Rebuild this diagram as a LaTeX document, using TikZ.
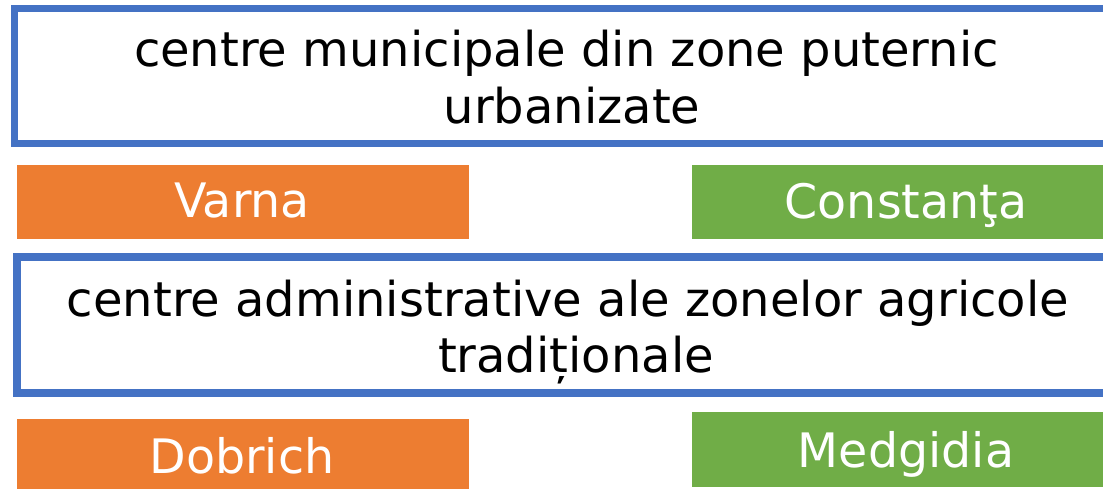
\documentclass[tikz,border=0pt]{standalone}
\usepackage{fontspec}
\setmainfont{DejaVu Sans}
\definecolor{bblue}{HTML}{4472C4}
\definecolor{borange}{HTML}{ED7D31}
\definecolor{bgreen}{HTML}{70AD47}
\tikzset{
  bluebox/.style={draw=bblue, fill=white, rectangle, inner sep=0pt},
  orangebox/.style={fill=borange, draw=borange, rectangle, inner sep=0pt},
  greenbox/.style={fill=bgreen, draw=bgreen, rectangle, inner sep=0pt},
  bigtext/.style={anchor=base, inner sep=0pt, text=black, font=\fontsize{48}{57}\selectfont},
  labtext/.style={anchor=base, inner sep=0pt, text=white, font=\fontsize{47.5}{50}\selectfont},
}
\begin{document}
\begin{tikzpicture}[x=1pt,y=-1pt]
\useasboundingbox (0,0) rectangle (1103,488);
\clip (0,0) rectangle (1103,488);
\fill[white] (0,0) rectangle (1103,488);
% boxes
\node[bluebox, line width=7.5pt, minimum width=1106.5pt, minimum height=135pt] (top) at (567.75,76) {};
\node[orangebox, minimum width=451pt, minimum height=73pt] (varna) at (242.5,201.5) {};
\node[greenbox, minimum width=428pt, minimum height=73pt] (constanta) at (906,201.5) {};
\node[bluebox, line width=8pt, minimum width=1104pt, minimum height=135.5pt] (mid) at (569,324.75) {};
\node[orangebox, minimum width=451pt, minimum height=81pt] (dobrich) at (242.5,459.5) {};
\node[greenbox, minimum width=428pt, minimum height=74pt] (medgidia) at (906,449) {};
% texts
\node[bigtext] (t1) at (566.5,66) {centre municipale din zone puternic};
\node[bigtext] (t2) at (572,123) {urbanizate};
\node[bigtext] (t3) at (568,316) {centre administrative ale zonelor agricole};
\node[bigtext] (t4) at (576,372) {tradiționale};
\node[labtext] (l1) at (242,217) {Varna};
\node[labtext] (l2) at (906,218) {Constanţa};
\node[labtext] (l3) at (242,473) {Dobrich};
\node[labtext] (l4) at (906,467) {Medgidia};
\end{tikzpicture}
\end{document}
